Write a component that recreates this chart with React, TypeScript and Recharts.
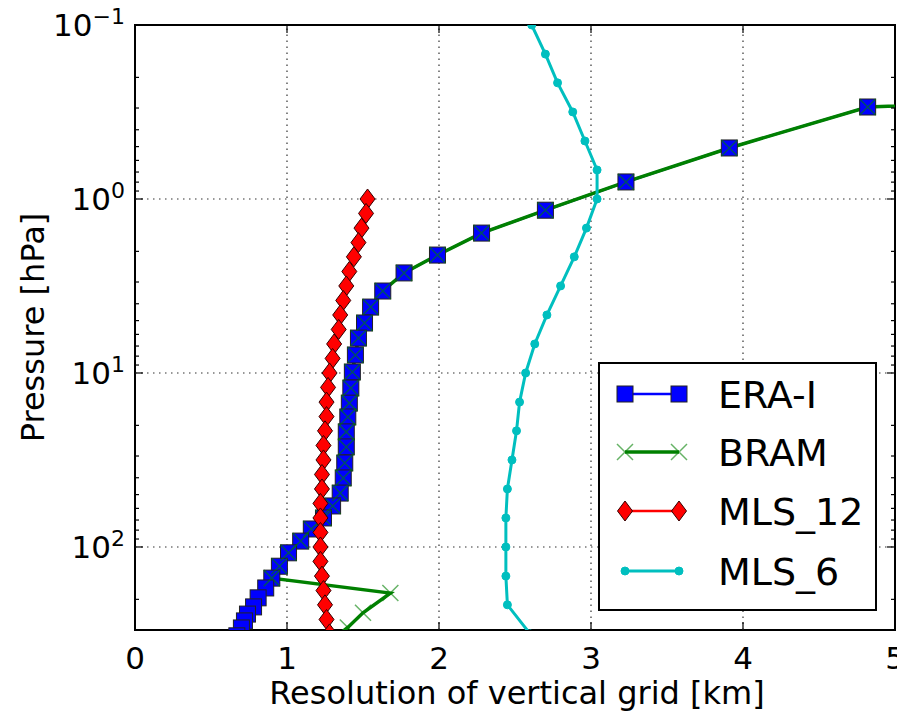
import React from "react";
import {
	LineChart,
	Line,
	XAxis,
	YAxis,
	ReferenceLine,
	ReferenceArea,
	Legend,
} from "recharts";

// ERA-Interim model levels [hPa] and their vertical spacing [km]
const eraPressure = [
	0.1, 0.296, 0.509, 0.798, 1.16, 1.57, 2.1, 2.66, 3.38, 4.18, 5.16, 6.3, 7.88,
	9.87, 12.2, 14.9, 17.9, 21.8, 26.6, 32.9, 40.1, 49.0, 58.1, 68.1, 78.8, 92.5,
	108, 129, 151, 172, 196, 221, 243, 266, 292, 324,
];
const eraResolution = [
	20, 4.82, 3.91, 3.23, 2.7, 2.28, 1.99, 1.77, 1.63, 1.55, 1.51, 1.47, 1.45,
	1.43, 1.42, 1.41, 1.4, 1.39, 1.39, 1.38, 1.37, 1.35, 1.3, 1.24, 1.16, 1.09,
	1.01, 0.95, 0.9, 0.86, 0.81, 0.78, 0.74, 0.72, 0.7, 0.67,
];

// BRAM shares the ERA-I grid down to ~150 hPa, then its own levels
const bramLowerPressure = [184, 239, 290, 340];
const bramLowerResolution = [1.68, 1.5, 1.4, 1.3];

// MLS, 12 levels per decade
const mls12Pressure = [
	1.0, 1.21, 1.47, 1.78, 2.15, 2.61, 3.16, 3.83, 4.64, 5.62, 6.81, 8.25, 10.0,
	12.1, 14.7, 17.8, 21.5, 26.1, 31.6, 38.3, 46.4, 56.2, 68.1, 82.5, 100, 121,
	147, 178, 215, 261, 316,
];
const mls12Resolution = [
	1.53, 1.52, 1.49, 1.47, 1.44, 1.41, 1.39, 1.37, 1.35, 1.34, 1.31, 1.3, 1.28,
	1.27, 1.26, 1.26, 1.25, 1.24, 1.24, 1.23, 1.23, 1.22, 1.22, 1.22, 1.22, 1.22,
	1.23, 1.24, 1.25, 1.26, 1.28,
];

// MLS, 6 levels per decade
const mls6Pressure = [
	0.1, 0.147, 0.215, 0.316, 0.464, 0.681, 1.0, 1.47, 2.15, 3.16, 4.64, 6.81, 10,
	14.7, 21.5, 31.6, 46.4, 68.1, 100, 147, 215, 316,
];
const mls6Resolution = [
	2.61, 2.7, 2.78, 2.88, 2.96, 3.04, 3.04, 2.97, 2.89, 2.8, 2.71, 2.63, 2.57,
	2.53, 2.51, 2.48, 2.45, 2.44, 2.44, 2.44, 2.45, 2.6,
];

const resolutionTicks = [0, 1, 2, 3, 4, 5];
const pressureTicks = [
	0.1, 0.2, 0.3, 0.4, 0.5, 0.6, 0.7, 0.8, 0.9, 1, 2, 3, 4, 5, 6, 7, 8, 9, 10,
	20, 30, 40, 50, 60, 70, 80, 90, 100, 200, 300,
];
const gridResolutions = [1, 2, 3, 4];
const gridPressures = [1, 10, 100];

const toPoints = (pressure: number[], res: number[]) =>
	pressure.map((p, i) => ({ p, x: res[i] }));

const eraPoints = toPoints(eraPressure, eraResolution);
const bramPoints = toPoints(
	[...eraPressure.slice(0, 29), ...bramLowerPressure],
	[...eraResolution.slice(0, 29), ...bramLowerResolution]
);
const mls12Points = toPoints(mls12Pressure, mls12Resolution);
const mls6Points = toPoints(mls6Pressure, mls6Resolution);

const W = 897;
const H = 717;
const MARGIN = { top: 25, right: 2, bottom: 0, left: 0 };
const Y_AXIS_W = 135;
const X_AXIS_H = 87;
const PLOT_W = W - MARGIN.left - MARGIN.right - Y_AXIS_W;
const PLOT_H = H - MARGIN.top - MARGIN.bottom - X_AXIS_H;
const TICK_MARGIN = 10;
const FONT = "'DejaVu Sans', 'Liberation Sans', sans-serif";

type MarkerKind = "square" | "x" | "diamond" | "circle";

const series = [
	{ name: "ERA-I", color: "#0000ff", marker: "square" as MarkerKind, lw: 2.5, data: eraPoints },
	{ name: "BRAM", color: "#008000", marker: "x" as MarkerKind, lw: 3.5, data: bramPoints },
	{ name: "MLS_12", color: "#ff0000", marker: "diamond" as MarkerKind, lw: 2.5, data: mls12Points },
	{ name: "MLS_6", color: "#00bfbf", marker: "circle" as MarkerKind, lw: 3, data: mls6Points },
];

const Marker = ({ kind, cx, cy, color }: { kind: MarkerKind; cx: number; cy: number; color: string }) => {
	if (kind === "square")
		return <rect x={cx - 8} y={cy - 8} width={16} height={16} fill={color} stroke="#222" strokeWidth={1} />;
	if (kind === "diamond")
		return (
			<polygon
				points={`${cx},${cy - 10} ${cx + 7.5},${cy} ${cx},${cy + 10} ${cx - 7.5},${cy}`}
				fill={color}
				stroke="#300"
				strokeWidth={1}
			/>
		);
	if (kind === "x")
		return (
			<path
				d={`M${cx - 8},${cy - 8}L${cx + 8},${cy + 8}M${cx - 8},${cy + 8}L${cx + 8},${cy - 8}`}
				stroke={color}
				strokeOpacity={0.6}
				strokeWidth={1.5}
				fill="none"
			/>
		);
	return <circle cx={cx} cy={cy} r={4} fill={color} stroke={color} />;
};

const dotRenderer = (kind: MarkerKind, color: string, id: string) => (p: any) => {
	if (p.cx == null || p.cy == null || !isFinite(p.cx) || !isFinite(p.cy))
		return <g key={`${id}-${p.index}`} />;
	return (
		<g key={`${id}-${p.index}`}>
			<Marker kind={kind} cx={p.cx} cy={p.cy} color={color} />
		</g>
	);
};

const isDecade = (v: number) =>
	Math.abs(Math.log10(v) - Math.round(Math.log10(v))) < 1e-9;

// left/right inward ticks plus 10^n labels
const PressureTick = (props: any) => {
	const { x, y, payload } = props;
	const v = payload.value as number;
	const spine = x + TICK_MARGIN;
	const major = isDecade(v);
	const len = major ? 8 : 4;
	const exp = Math.round(Math.log10(v));
	return (
		<g>
			<line x1={spine} x2={spine + len} y1={y} y2={y} stroke="#000" strokeWidth={1.2} />
			<line x1={spine + PLOT_W} x2={spine + PLOT_W - len} y1={y} y2={y} stroke="#000" strokeWidth={1.2} />
			{major && (
				<text x={x} y={y + 11} textAnchor="end" fontSize={31} fontFamily={FONT} fill="#000">
					10
					<tspan dy={-12} fontSize={22}>
						{exp < 0 ? `\u2212${-exp}` : `${exp}`}
					</tspan>
				</text>
			)}
		</g>
	);
};

// bottom/top inward ticks plus labels
const ResolutionTick = (props: any) => {
	const { x, y, payload } = props;
	const spine = y - TICK_MARGIN;
	return (
		<g>
			<line x1={x} x2={x} y1={spine} y2={spine - 8} stroke="#000" strokeWidth={1.2} />
			<line x1={x} x2={x} y1={spine - PLOT_H} y2={spine - PLOT_H + 8} stroke="#000" strokeWidth={1.2} />
			<text x={x} y={spine + 39} textAnchor="middle" fontSize={31} fontFamily={FONT} fill="#000">
				{payload.value}
			</text>
		</g>
	);
};

const XTitle = (props: any) => {
	const vb = props.viewBox ?? { x: Y_AXIS_W, y: MARGIN.top + PLOT_H, width: PLOT_W };
	return (
		<text x={vb.x + vb.width / 2 + 2} y={vb.y + 74} textAnchor="middle" fontSize={32} fontFamily={FONT} fill="#000">
			Resolution of vertical grid [km]
		</text>
	);
};

const YTitle = (props: any) => {
	const vb = props.viewBox ?? { x: 0, y: MARGIN.top, height: PLOT_H };
	const cx = 44;
	const cy = vb.y + vb.height / 2;
	return (
		<text
			x={cx}
			y={cy}
			transform={`rotate(-90 ${cx} ${cy})`}
			textAnchor="middle"
			fontSize={32}
			fontFamily={FONT}
			fill="#000"
		>
			Pressure [hPa]
		</text>
	);
};

const LegendBox = () => {
	const rows = [32, 90, 149, 209];
	return (
		<svg width={279} height={249} style={{ display: "block" }}>
			<rect x={1} y={1} width={277} height={247} fill="#fff" stroke="#000" strokeWidth={2} />
			{series.map((s, i) => (
				<g key={s.name}>
					<line x1={27} x2={81} y1={rows[i]} y2={rows[i]} stroke={s.color} strokeWidth={s.lw} />
					<Marker kind={s.marker} cx={27} cy={rows[i]} color={s.color} />
					<Marker kind={s.marker} cx={81} cy={rows[i]} color={s.color} />
					<text x={120} y={rows[i] + 14} fontSize={38} fontFamily={FONT} fill="#000">
						{s.name}
					</text>
				</g>
			))}
		</svg>
	);
};

export default function App() {
	return (
		<div style={{ position: "absolute", left: 0, top: 0, width: W, height: H, background: "#fff" }}>
			<LineChart width={W} height={H} margin={MARGIN}>
				<XAxis
					type="number"
					dataKey="x"
					domain={[0, 5]}
					ticks={resolutionTicks}
					allowDataOverflow
					height={X_AXIS_H}
					axisLine={false}
					tickLine={false}
					tickSize={0}
					tickMargin={TICK_MARGIN}
					interval={0}
					tick={ResolutionTick}
					label={XTitle}
				/>
				<YAxis
					type="number"
					dataKey="p"
					scale="log"
					domain={[0.1, 300]}
					reversed
					allowDataOverflow
					ticks={pressureTicks}
					width={Y_AXIS_W}
					axisLine={false}
					tickLine={false}
					tickSize={0}
					tickMargin={TICK_MARGIN}
					interval={0}
					tick={PressureTick}
					label={YTitle}
				/>
				{gridResolutions.map((v) => (
					<ReferenceLine key={`gx${v}`} x={v} stroke="#333" strokeWidth={1.2} strokeDasharray="1.5 4.5" />
				))}
				{gridPressures.map((v) => (
					<ReferenceLine key={`gy${v}`} y={v} stroke="#333" strokeWidth={1.2} strokeDasharray="1.5 4.5" />
				))}
				{series.map((s) => (
					<Line
						key={s.name}
						name={s.name}
						data={s.data}
						dataKey="p"
						stroke={s.color}
						strokeWidth={s.lw}
						dot={dotRenderer(s.marker, s.color, s.name)}
						activeDot={false}
						isAnimationActive={false}
					/>
				))}
				<ReferenceArea x1={0} x2={5} y1={0.1} y2={300} fill="none" stroke="#000" strokeWidth={2} />
				<Legend
					layout="horizontal"
					verticalAlign="middle"
					align="center"
					content={LegendBox}
					wrapperStyle={{ position: "absolute", left: 598, top: 362, width: 279, height: 249 }}
				/>
			</LineChart>
		</div>
	);
}
